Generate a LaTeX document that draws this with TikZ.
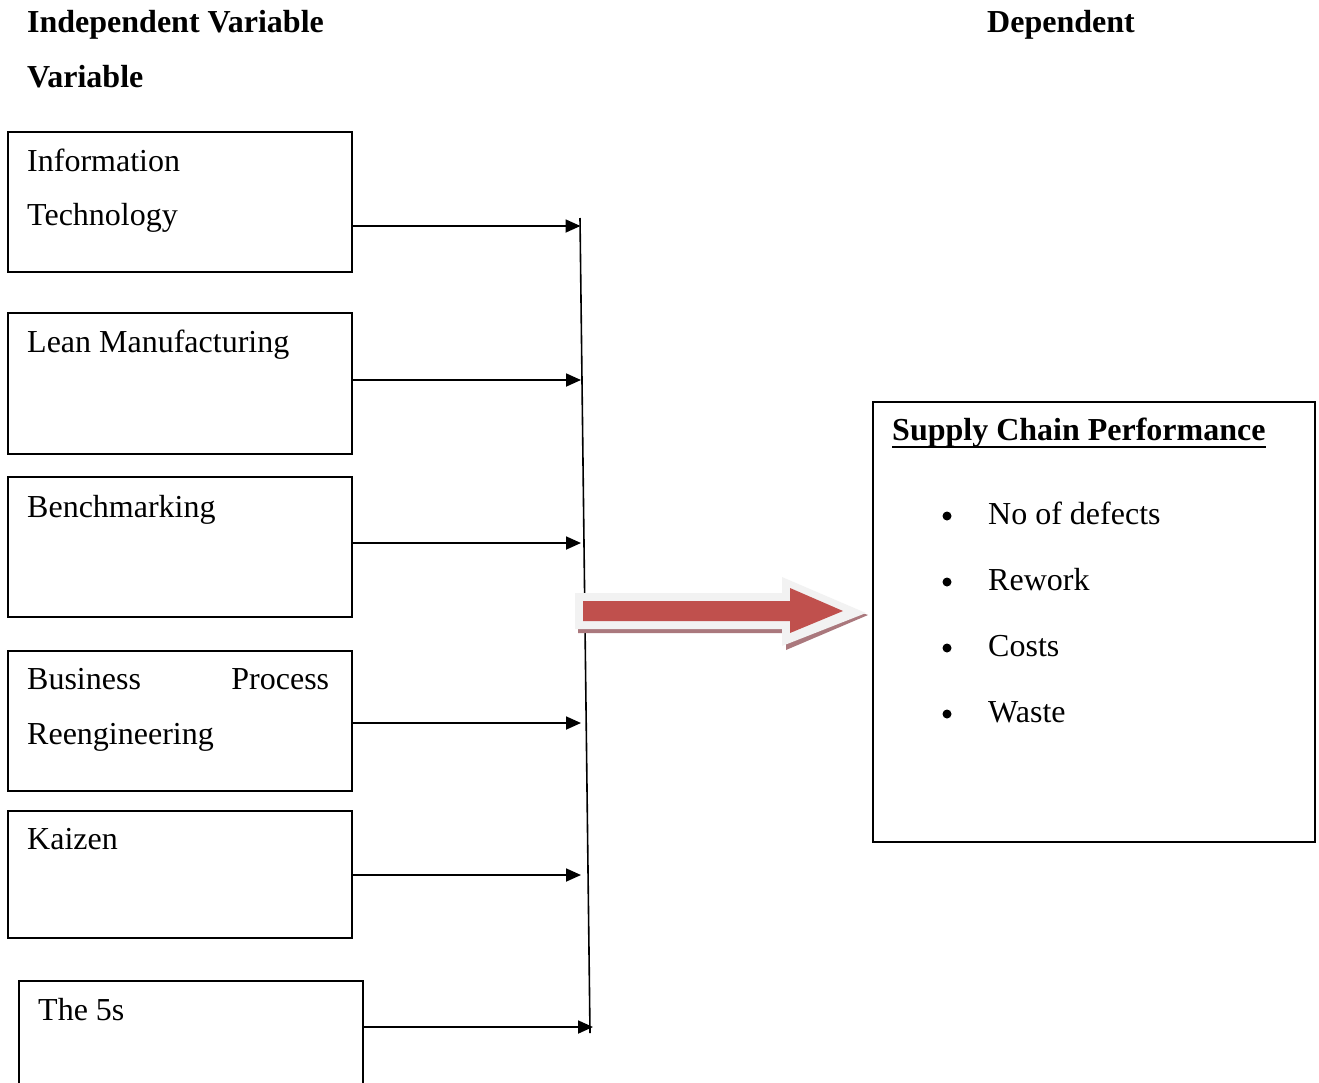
\documentclass[tikz,border=0pt]{standalone}
\usepackage{fontspec}
\setmainfont{Liberation Serif}
\usetikzlibrary{arrows.meta}
\definecolor{arrred}{RGB}{192,80,77}
\definecolor{arrgray}{RGB}{242,242,242}
\definecolor{arrshadow}{RGB}{170,120,125}
\begin{document}
\begin{tikzpicture}[x=1pt,y=-1pt,
  hdr/.style={font=\fontsize{32}{34}\selectfont\bfseries, inner sep=0pt, anchor=base west},
  txt/.style={font=\fontsize{32}{34}\selectfont, inner sep=0pt, anchor=base west},
  ivbox/.style={draw, line width=1.6pt, minimum width=344pt, minimum height=140pt, inner sep=0pt, anchor=north west},
  conn/.style={line width=1.8pt, -{Triangle[length=15pt,width=13pt]}},
  bul/.style={circle, fill=black, inner sep=0pt, minimum size=9pt}]
\useasboundingbox (0,0) rectangle (1319,1082);
% headers
\node[hdr] (h1) at (27,32) {Independent Variable};
\node[hdr] (h2) at (27,87) {Variable};
\node[hdr] (h3) at (987,32) {Dependent};
% boxes
\node[ivbox] (b1) at (7,131) {};
\node[ivbox, minimum height=141pt] (b2) at (7,312) {};
\node[ivbox] (b3) at (7,476) {};
\node[ivbox] (b4) at (7,650) {};
\node[ivbox, minimum height=127pt] (b5) at (7,810) {};
\node[ivbox, minimum height=120pt] (b6) at (18,980) {};
% box texts
\node[txt] (t1a) at (27,171) {Information};
\node[txt] (t1b) at (27,225) {Technology};
\node[txt] (t2) at (27,352) {Lean Manufacturing};
\node[txt] (t3) at (27,517) {Benchmarking};
\node[txt, text width=302pt] (t4a) at (27,689) {Business\hfill Process};
\node[txt] (t4b) at (27,744) {Reengineering};
\node[txt] (t5) at (27,849) {Kaizen};
\node[txt] (t6) at (38,1020) {The 5s};
% vertical line
\coordinate (vtop) at (580,218);
\coordinate (vbot) at (590,1033);
\draw[line width=1.6pt] (vtop) -- (vbot);
\coordinate (p1) at (580.5,226);
\coordinate (p2) at (581,380);
\coordinate (p3) at (581,543);
\coordinate (p4) at (581,723);
\coordinate (p5) at (581,875);
\coordinate (p6) at (593,1027);
\draw[conn] (b1.east |- p1) -- (p1);
\draw[conn] (b2.east |- p2) -- (p2);
\draw[conn] (b3.east |- p3) -- (p3);
\draw[conn] (b4.east |- p4) -- (p4);
\draw[conn] (b5.east |- p5) -- (p5);
\draw[conn] (b6.east |- p6) -- (p6);
% big arrow
\fill[arrshadow] (578,600) -- (786,600) -- (786,586) -- (868,615) -- (786,650) -- (786,633) -- (578,633) -- cycle;
\fill[arrgray] (575,593) -- (782,593) -- (782,577) -- (866,613) -- (782,646) -- (782,629) -- (575,629) -- cycle;
\fill[arrred] (583,601) -- (790,601) -- (790,588) -- (843,611) -- (790,633) -- (790,621) -- (583,621) -- cycle;
% dependent box
\node[draw, line width=1.6pt, minimum width=442pt, minimum height=440pt, inner sep=0pt, anchor=north west] (dv) at (872,401) {};
\node[hdr] (title) at (892,440) {Supply Chain Performance};
\draw[line width=2.6pt] ([yshift=-7pt]title.base west) -- ([yshift=-7pt]title.base east);
\node[bul] (d1) at (947,516) {};
\node[bul] (d2) at (947,582) {};
\node[bul] (d3) at (947,648) {};
\node[bul] (d4) at (947,714) {};
\node[txt] (l1) at (988,524) {No of defects};
\node[txt] (l2) at (988,590) {Rework};
\node[txt] (l3) at (988,656) {Costs};
\node[txt] (l4) at (988,722) {Waste};
\end{tikzpicture}
\end{document}
